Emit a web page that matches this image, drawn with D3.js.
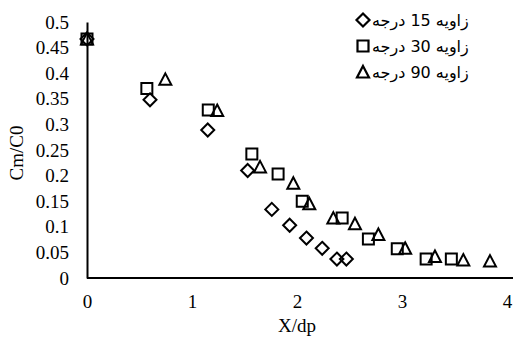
<!DOCTYPE html>
<html>
<head>
<meta charset="utf-8">
<script src="https://cdn.jsdelivr.net/npm/d3@7"></script>
<style>
  body { margin: 0; background: #fff; }
  svg { display: block; }
</style>
</head>
<body>
<div id="chart"></div>
<script>
// data
const xDeg15 = [0, 0.6, 1.15, 1.53, 1.76, 1.93, 2.09, 2.24, 2.38, 2.47];
const yDeg15 = [0.467, 0.348, 0.289, 0.21, 0.134, 0.103, 0.078, 0.058, 0.037, 0.037];
const xDeg30 = [0, 0.57, 1.155, 1.57, 1.82, 2.05, 2.43, 2.68, 2.955, 3.23, 3.47];
const yDeg30 = [0.467, 0.37, 0.328, 0.242, 0.203, 0.15, 0.117, 0.076, 0.057, 0.037, 0.037];
const xDeg90 = [0, 0.746, 1.24, 1.648, 1.965, 2.117, 2.346, 2.552, 2.775, 3.03, 3.314, 3.584, 3.838];
const yDeg90 = [0.467, 0.388, 0.327, 0.217, 0.185, 0.145, 0.117, 0.106, 0.085, 0.058, 0.042, 0.035, 0.033];
const seriesNames = ['زاویه 15 درجه', 'زاویه 30 درجه', 'زاویه 90 درجه'];
const xTicks = [0, 1, 2, 3, 4];
const yTicks = [0, 0.05, 0.1, 0.15, 0.2, 0.25, 0.3, 0.35, 0.4, 0.45, 0.5];
const yTickLabels = ['0', '0.05', '0.1', '0.15', '0.2', '0.25', '0.3', '0.35', '0.4', '0.45', '0.5'];
const xTitle = 'X/dp';
const yTitle = 'Cm/C0';

const width = 513, height = 343;
const margin = { top: 22, right: 6, bottom: 65, left: 87 };
const serif = '"Liberation Serif", "Times New Roman", serif';

const svg = d3.select('#chart').append('svg')
  .attr('width', width)
  .attr('height', height);

const x = d3.scaleLinear().domain([0, 4]).range([margin.left, width - margin.right]);
const y = d3.scaleLinear().domain([0, 0.5]).range([height - margin.bottom, margin.top]);

// marker shapes
const shapes = {
  diamond: 'M0,-6.5L6.5,0L0,6.5L-6.5,0Z',
  square: 'M-5.5,-5.5H5.5V5.5H-5.5Z',
  triangle: 'M0,-6L6,5.5H-6Z'
};
const series = [
  { name: seriesNames[0], shape: shapes.diamond, xs: xDeg15, ys: yDeg15 },
  { name: seriesNames[1], shape: shapes.square, xs: xDeg30, ys: yDeg30 },
  { name: seriesNames[2], shape: shapes.triangle, xs: xDeg90, ys: yDeg90 }
];

// x axis
const gx = svg.append('g')
  .attr('transform', `translate(0,${y(0)})`)
  .call(d3.axisBottom(x).tickValues(xTicks).tickFormat(d3.format('d')).tickSize(0).tickPadding(17));
gx.select('.domain')
  .attr('d', `M${x.range()[0]},0H${width}`)
  .attr('stroke', '#000')
  .attr('stroke-width', 2);
gx.selectAll('text').style('font-family', serif).style('font-size', '19px').attr('fill', '#000');

// y axis
const gy = svg.append('g')
  .attr('transform', `translate(${x(0)},0)`)
  .call(d3.axisLeft(y).tickValues(yTicks).tickFormat((d, i) => yTickLabels[i]).tickSize(0).tickPadding(18));
gy.select('.domain').attr('stroke', '#000').attr('stroke-width', 2);
gy.selectAll('text').style('font-family', serif).style('font-size', '19px').attr('fill', '#000');

// axis titles
svg.append('text')
  .attr('x', (x.range()[0] + x.range()[1]) / 2)
  .attr('y', 332)
  .attr('text-anchor', 'middle')
  .style('font-family', serif)
  .style('font-size', '19px')
  .text(xTitle);

svg.append('text')
  .attr('transform', `translate(23,${(y.range()[0] + y.range()[1]) / 2 + 3}) rotate(-90)`)
  .attr('text-anchor', 'middle')
  .style('font-family', serif)
  .style('font-size', '19px')
  .text(yTitle);

// points
series.forEach(s => {
  svg.append('g')
    .selectAll('path')
    .data(s.xs.map((v, i) => ({ x: v, y: s.ys[i] })))
    .join('path')
    .attr('transform', d => `translate(${x(d.x)},${y(d.y)})`)
    .attr('d', s.shape)
    .attr('fill', 'none')
    .attr('stroke', '#000')
    .attr('stroke-width', 2);
});

// legend
const legend = svg.append('g').attr('transform', 'translate(363,20)');
series.forEach((s, i) => {
  const row = legend.append('g').attr('transform', `translate(0,${i * 26})`);
  row.append('path')
    .attr('d', s.shape)
    .attr('fill', 'none')
    .attr('stroke', '#000')
    .attr('stroke-width', 2.2);
  row.append('text')
    .attr('x', 9)
    .attr('dy', '0.35em')
    .style('font-family', '"DejaVu Sans", sans-serif')
    .style('font-size', '16px')
    .text(s.name);
});
</script>
</body>
</html>
